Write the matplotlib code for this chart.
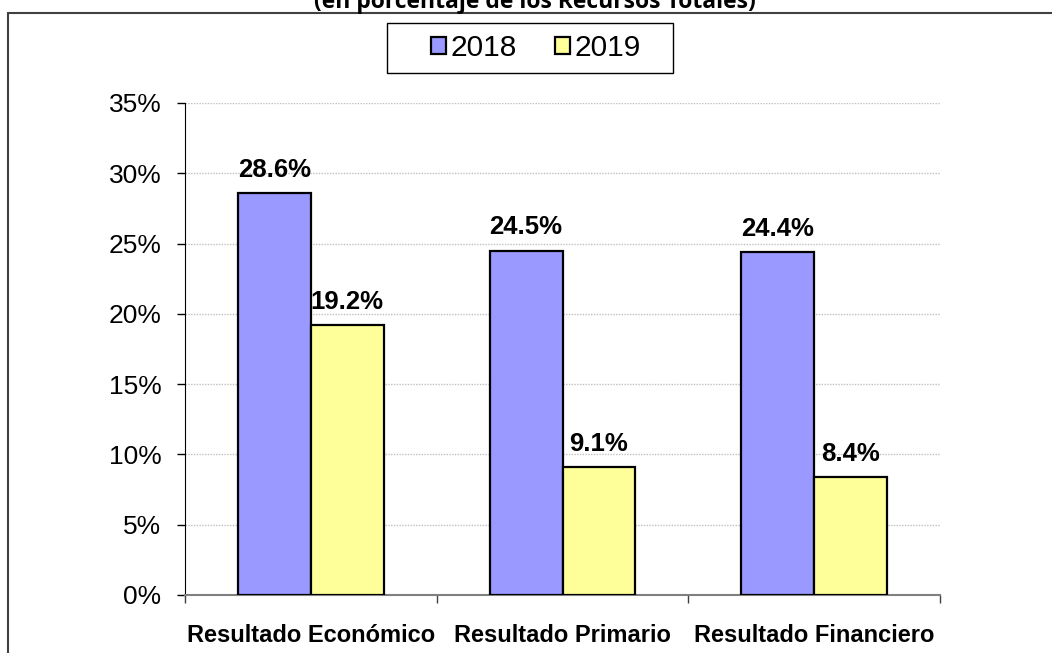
import numpy as np
import matplotlib.pyplot as plt
from matplotlib.patches import Rectangle
from matplotlib.ticker import FuncFormatter

# Datos
categorias = ["Resultado Económico", "Resultado Primario", "Resultado Financiero"]
anios = ["2018", "2019"]
valores_2018 = [28.6, 24.5, 24.4]
valores_2019 = [19.2, 9.1, 8.4]
colores = ["#9999FF", "#FFFF99"]

plt.rcParams['font.family'] = ['Liberation Sans', 'DejaVu Sans']

W, H = 1052, 653
fig = plt.figure(figsize=(W / 100, H / 100), dpi=100)
ax = fig.add_axes([185 / W, 1 - 595 / H, 755 / W, 492 / H])

# Marco exterior
fig.patches.append(Rectangle((8 / W, -0.1), 1.2, 1 - 13 / H + 0.1,
                             transform=fig.transFigure, fill=False,
                             edgecolor="#404040", linewidth=1.5))

# Título (cortado arriba, como en el original)
fig.text(535 / W, 1 - 8 / H, "(en porcentaje de los Recursos Totales)",
         ha="center", va="baseline", fontsize=16.5, fontweight="bold",
         family=["Open Sans", "DejaVu Sans"])

x = np.arange(len(categorias))
ancho = 0.29
barras1 = ax.bar(x - ancho / 2, valores_2018, ancho, color=colores[0],
                 edgecolor="black", linewidth=1.6, label=anios[0], zorder=3)
barras2 = ax.bar(x + ancho / 2, valores_2019, ancho, color=colores[1],
                 edgecolor="black", linewidth=1.6, label=anios[1], zorder=3)

for barras, vals in [(barras1, valores_2018), (barras2, valores_2019)]:
    for b, v in zip(barras, vals):
        ax.annotate(f"{v:.1f}%", (b.get_x() + b.get_width() / 2, v),
                    xytext=(0, 8), textcoords="offset points",
                    ha="center", va="bottom", fontsize=18.5, fontweight="bold")

ax.set_ylim(0, 35)
ax.set_xlim(-0.5, 2.5)
ax.set_yticks(np.arange(0, 36, 5))
ax.yaxis.set_major_formatter(FuncFormatter(lambda v, p: f"{v:.0f}%"))
ax.tick_params(axis="y", labelsize=19, length=6, width=1, direction="out", pad=11)

ax.set_xticks(x)
ax.set_xticklabels(categorias, fontsize=17, fontweight="bold")
ax.set_xticks([-0.5, 0.5, 1.5, 2.5], minor=True)
ax.tick_params(axis="x", which="major", length=0, pad=21)
ax.tick_params(axis="x", which="minor", length=6, width=1, color="#404040")

for y in np.arange(5, 36, 5):
    ax.axhline(y, color="#c0c0c0", linestyle=(0, (1, 1)), linewidth=1, zorder=1)

ax.spines["top"].set_visible(False)
ax.spines["right"].set_visible(False)
ax.spines["left"].set_color("black")
ax.spines["bottom"].set_color("#808080")
ax.spines["bottom"].set_linewidth(1.5)

leg = fig.legend(loc="center", bbox_to_anchor=(536 / W, 1 - 48 / H),
                 ncol=2, fontsize=21.5, frameon=False,
                 handlelength=0.5, handleheight=0.5, handletextpad=0.15,
                 columnspacing=1.3, borderaxespad=0)
for h in leg.legend_handles:
    h.set_linewidth(1.6)

# Marco de la leyenda
fig.patches.append(Rectangle((387 / W, 1 - 73 / H), 286 / W, 50 / H,
                             transform=fig.transFigure, fill=False,
                             edgecolor="black", linewidth=1))

fig.savefig("out.png", dpi=100)
